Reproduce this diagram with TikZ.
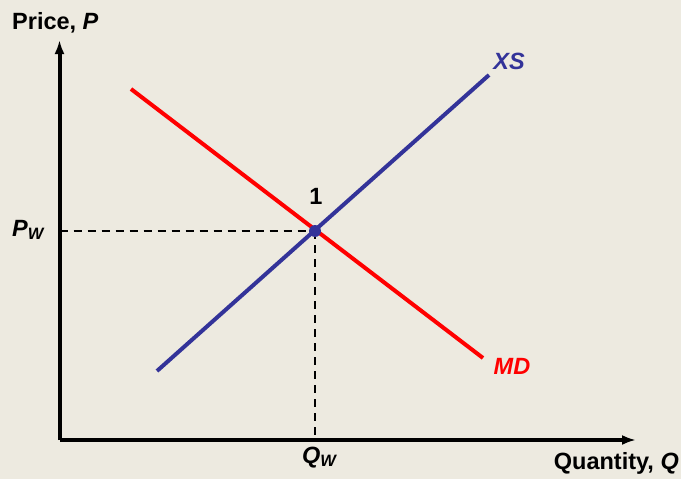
\documentclass[tikz,border=0pt]{standalone}
\usepackage{fontspec}
\setmainfont{Liberation Sans}
\usetikzlibrary{arrows.meta}
\definecolor{bg}{HTML}{EDEAE0}
\definecolor{xsblue}{HTML}{333399}
\definecolor{mdred}{HTML}{FF0000}
\tikzset{
  axis/.style={line width=4pt, -{Latex[length=14pt,width=10pt]}},
  curve/.style={line width=4pt},
  guide/.style={line width=2pt, dash pattern=on 8pt off 6pt},
  lbl/.style={font=\fontsize{23.5}{28}\selectfont\bfseries, inner sep=0pt},
}
\begin{document}
\begin{tikzpicture}[x=1pt,y=-1pt]
\fill[bg] (0,0) rectangle (681,479);
\useasboundingbox (0,0) rectangle (681,479);
\coordinate (O) at (59.5,440);
\coordinate (Ytop) at (59.5,40);
\coordinate (Xend) at (636,440);
\coordinate (E) at (315,231);
\coordinate (Ey) at (59.5,231);
\coordinate (Ex) at (315,440);
\coordinate (MDa) at (131,89);
\coordinate (MDb) at (483,358);
\coordinate (XSa) at (157,371);
\coordinate (XSb) at (489,75);
\draw[guide] (Ey) -- (E);
\draw[guide] (E) -- (Ex);
\draw[curve, mdred] (MDa) -- (MDb);
\draw[curve, xsblue] (XSa) -- (XSb);
\fill[xsblue] (E) circle (6pt);
\draw[axis] (O) -- (Ytop);
\draw[axis] (O) -- (Xend);
\node[lbl, anchor=base west] (pl) at (12,29) {Price, \textit{P}};
\node[lbl, anchor=base east] (ql) at (679,469) {Quantity, \textit{Q}};
\node[lbl, anchor=base west] (pw) at (12,236) {\textit{P}\textsubscript{\textit{W}}};
\node[lbl, anchor=base west] (qw) at (302,463) {\textit{Q}\textsubscript{\textit{W}}};
\node[lbl, anchor=base] (one) at (316,204) {1};
\node[lbl, anchor=base, xsblue] (xs) at (509,69) {\textit{XS}};
\node[lbl, anchor=base, mdred] (md) at (512,374) {\textit{MD}};
\end{tikzpicture}
\end{document}
